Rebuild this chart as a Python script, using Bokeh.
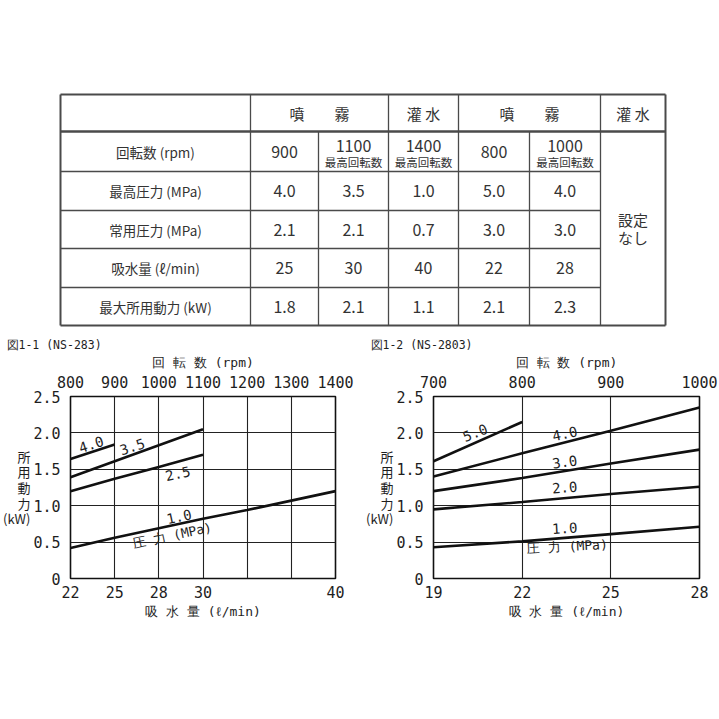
from bokeh.plotting import figure
from bokeh.models import Range1d, LinearAxis, FixedTicker, ColumnDataSource
from bokeh.layouts import column, row
from bokeh.embed import file_html
from bokeh.resources import INLINE
from bokeh.core.properties import value
import math

# ---------------- table data ----------------
header_groups = ["噴　　霧", "灌 水", "噴　　霧", "灌 水"]
row_labels = ["回転数 (rpm)", "最高圧力 (MPa)", "常用圧力 (MPa)", "吸水量 (ℓ/min)", "最大所用動力 (kW)"]
rpm_values = ["900", "1100", "1400", "800", "1000"]
rpm_notes = ["", "最高回転数", "最高回転数", "", "最高回転数"]
max_pressure = ["4.0", "3.5", "1.0", "5.0", "4.0"]
normal_pressure = ["2.1", "2.1", "0.7", "3.0", "3.0"]
suction_flow = ["25", "30", "40", "22", "28"]
max_power = ["1.8", "2.1", "1.1", "2.1", "2.3"]
last_col_text = ["設定", "なし"]

# ---------------- chart data ----------------
kw_ticks = [0, 0.5, 1.0, 1.5, 2.0, 2.5]
kw_tick_labels = ["0", "0.5", "1.0", "1.5", "2.0", "2.5"]

# Fig 1-1 (NS-283)
c1_title = "図1-1 (NS-283)"
c1_rpm_ticks = [800, 900, 1000, 1100, 1200, 1300, 1400]
c1_flow_rpm = [800, 900, 1000, 1100, 1400]
c1_flow_labels = ["22", "25", "28", "30", "40"]
c1_p40_rpm = [800, 900]
c1_p40_kw = [1.64, 1.84]
c1_p35_rpm = [800, 900, 1000, 1100]
c1_p35_kw = [1.39, 1.61, 1.83, 2.05]
c1_p25_rpm = [800, 900, 1000, 1100]
c1_p25_kw = [1.20, 1.37, 1.53, 1.70]
c1_p10_rpm = [800, 900, 1000, 1100, 1200, 1300, 1400]
c1_p10_kw = [0.42, 0.56, 0.69, 0.82, 0.94, 1.07, 1.20]

# Fig 1-2 (NS-2803)
c2_title = "図1-2 (NS-2803)"
c2_rpm_ticks = [700, 800, 900, 1000]
c2_flow_rpm = [700, 800, 900, 1000]
c2_flow_labels = ["19", "22", "25", "28"]
c2_p50_rpm = [700, 800]
c2_p50_kw = [1.61, 2.15]
c2_p40_rpm = [700, 800, 900, 1000]
c2_p40_kw = [1.40, 1.72, 2.03, 2.35]
c2_p30_rpm = [700, 800, 900, 1000]
c2_p30_kw = [1.20, 1.38, 1.58, 1.77]
c2_p20_rpm = [700, 800, 900, 1000]
c2_p20_kw = [0.95, 1.05, 1.16, 1.26]
c2_p10_rpm = [700, 800, 900, 1000]
c2_p10_kw = [0.43, 0.51, 0.61, 0.71]

JP = "Noto Sans CJK JP"
MONO = "DejaVu Sans Mono"
INK = "#1e1e1e"
TINK = "#333333"
LINE = "#4a4a4a"

# ---------------- table figure ----------------
col_edges = [60, 250, 318, 388, 458, 529, 600, 665]
row_edges = [94, 131, 171, 210, 248, 287, 325]

t = figure(width=719, height=335, x_range=Range1d(0, 719), y_range=Range1d(335, 0),
           output_backend="svg", toolbar_location=None,
           x_axis_location=None, y_axis_location=None, min_border=0)
t.xgrid.visible = False
t.ygrid.visible = False
t.outline_line_color = None
t.background_fill_color = "white"
t.border_fill_color = "white"

L, R = col_edges[0], col_edges[-1]
T, B = row_edges[0], row_edges[-1]
segs = dict(x0=[], y0=[], x1=[], y1=[], w=[])


def seg(x0, y0, x1, y1, w):
    segs["x0"].append(x0); segs["y0"].append(y0)
    segs["x1"].append(x1); segs["y1"].append(y1); segs["w"].append(w)


seg(L, T, R, T, 2); seg(L, B, R, B, 2); seg(L, T, L, B, 2); seg(R, T, R, B, 2)
seg(L, row_edges[1], R, row_edges[1], 2.6)
for y in row_edges[2:-1]:
    seg(L, y, col_edges[6], y, 1.3)
for x in (col_edges[1], col_edges[3], col_edges[4], col_edges[6]):
    seg(x, T, x, B, 1.3)
for x in (col_edges[2], col_edges[5]):
    seg(x, row_edges[1], x, B, 1.3)
t.segment(x0="x0", y0="y0", x1="x1", y1="y1", line_width="w", line_color=LINE,
          source=ColumnDataSource(segs))

hdr_y = (row_edges[0] + row_edges[1]) / 2
hdr_x = [(col_edges[1] + col_edges[3]) / 2, (col_edges[3] + col_edges[4]) / 2,
         (col_edges[4] + col_edges[6]) / 2, (col_edges[6] + col_edges[7]) / 2]
t.text(x=hdr_x, y=[hdr_y] * 4, text=header_groups, text_font=value(JP), text_font_size="15px",
       text_align="center", text_baseline="middle", text_color=TINK)

row_c = [(row_edges[i] + row_edges[i + 1]) / 2 for i in range(1, 6)]
lab_x = (col_edges[0] + col_edges[1]) / 2
t.text(x=[lab_x] * 5, y=row_c, text=row_labels, text_font=value(JP), text_font_size="13.5px",
       text_align="center", text_baseline="middle", text_color=TINK)

val_x = [(col_edges[i] + col_edges[i + 1]) / 2 for i in range(1, 6)]
vx, vy, vt = [], [], []
for i, v in enumerate(rpm_values):
    vx.append(val_x[i]); vt.append(v)
    vy.append(row_c[0] - 6 if rpm_notes[i] else row_c[0])
for r, vals in enumerate([max_pressure, normal_pressure, suction_flow, max_power], start=1):
    for i, v in enumerate(vals):
        vx.append(val_x[i]); vy.append(row_c[r]); vt.append(v)
t.text(x=vx, y=vy, text=vt, text_font=value(JP), text_font_size="16px",
       text_align="center", text_baseline="middle", text_color=TINK)

nx = [val_x[i] for i in range(5) if rpm_notes[i]]
nt = [n for n in rpm_notes if n]
t.text(x=nx, y=[row_c[0] + 10] * len(nx), text=nt, text_font=value(JP), text_font_size="11.5px",
       text_align="center", text_baseline="middle", text_color=TINK)

last_x = (col_edges[6] + col_edges[7]) / 2
mid = (row_edges[1] + row_edges[-1]) / 2
t.text(x=[last_x, last_x], y=[mid - 9, mid + 9], text=last_col_text, text_font=value(JP),
       text_font_size="15px", text_align="center", text_baseline="middle", text_color=TINK)


# ---------------- charts ----------------
def make_chart(width, left, right, x0, x1, top_ticks, grid_ticks, bottom_ticks, bottom_labels,
               title, title_offset):
    p = figure(width=width, height=384, x_range=Range1d(x0, x1), y_range=Range1d(0, 2.5),
               output_backend="svg", toolbar_location=None, title=title,
               min_border_left=left, min_border_right=right, min_border_top=61, min_border_bottom=141)
    p.background_fill_color = "white"
    p.border_fill_color = "white"
    p.outline_line_color = "#111111"
    p.outline_line_width = 1.6
    p.title.align = "left"
    p.title.offset = title_offset
    p.title.standoff = 0
    p.title.text_font = MONO
    p.title.text_font_size = "11.5px"
    p.title.text_font_style = "normal"
    p.title.text_color = INK
    p.xgrid.ticker = FixedTicker(ticks=grid_ticks)
    p.ygrid.ticker = FixedTicker(ticks=[0.5, 1.0, 1.5, 2.0])
    p.xgrid.grid_line_color = "#222222"
    p.ygrid.grid_line_color = "#222222"
    p.xgrid.grid_line_width = 1.1
    p.ygrid.grid_line_width = 1.1

    xb = p.xaxis[0]
    xb.ticker = FixedTicker(ticks=bottom_ticks)
    xb.major_label_overrides = dict(zip(bottom_ticks, bottom_labels))
    xb.axis_label = "吸 水 量 (ℓ/min)"
    ya = p.yaxis[0]
    ya.ticker = FixedTicker(ticks=kw_ticks)
    ya.major_label_overrides = dict(zip(kw_ticks, kw_tick_labels))
    xt = LinearAxis(ticker=FixedTicker(ticks=top_ticks), axis_label="回 転 数 (rpm)")
    p.add_layout(xt, "above")
    for ax in (xb, ya, xt):
        ax.axis_line_color = None
        ax.major_tick_line_color = None
        ax.minor_tick_line_color = None
        ax.major_tick_out = 0
        ax.major_tick_in = 0
        ax.major_label_text_font = MONO
        ax.major_label_text_font_size = "15px"
        ax.major_label_text_color = INK
        ax.axis_label_text_font = MONO
        ax.axis_label_text_font_size = "13px"
        ax.axis_label_text_font_style = "normal"
        ax.axis_label_text_color = INK
    xb.major_label_standoff = 7
    xb.axis_label_standoff = 3
    xt.major_label_standoff = 9
    xt.axis_label_standoff = 3
    ya.major_label_standoff = 10
    if "axis_label_orientation" in ya.properties():
        ya.axis_label = "所\n用\n動\n力\n(kW)"
        ya.axis_label_orientation = "horizontal"
    else:
        ya.axis_label = "所用動力 (kW)"
    ya.axis_label_text_font = JP
    ya.axis_label_text_font_size = "13px"
    if "axis_label_text_line_height" in ya.properties():
        ya.axis_label_text_line_height = 0.82
    ya.axis_label_standoff = 0
    return p


def add_line_labels(p, xs, ys, texts, angles_deg, size):
    p.text(x=xs, y=ys, text=texts, angle=[math.radians(a) for a in angles_deg],
           text_font=value(MONO), text_font_size=size, text_align="center",
           text_baseline="middle", text_color=INK)


c1 = make_chart(360, 69, 25, 800, 1400, c1_rpm_ticks, c1_rpm_ticks, c1_flow_rpm, c1_flow_labels,
                c1_title, -64)
for xs, ys in [(c1_p40_rpm, c1_p40_kw), (c1_p35_rpm, c1_p35_kw),
               (c1_p25_rpm, c1_p25_kw), (c1_p10_rpm, c1_p10_kw)]:
    c1.line(xs, ys, line_color="#111111", line_width=2.6)
add_line_labels(c1, [847, 940, 1043, 1046], [1.84, 1.81, 1.44, 0.85],
                ["4.0", "3.5", "2.5", "1.0"], [18, 18, 12, 12], "14px")
add_line_labels(c1, [1030], [0.59], ["圧 力 (MPa)"], [12], "13px")

c2 = make_chart(359, 73, 20, 700, 1000, c2_rpm_ticks, c2_rpm_ticks, c2_flow_rpm, c2_flow_labels,
                c2_title, -63)
for xs, ys in [(c2_p50_rpm, c2_p50_kw), (c2_p40_rpm, c2_p40_kw), (c2_p30_rpm, c2_p30_kw),
               (c2_p20_rpm, c2_p20_kw), (c2_p10_rpm, c2_p10_kw)]:
    c2.line(xs, ys, line_color="#111111", line_width=2.6)
add_line_labels(c2, [747, 848, 848, 848, 848], [2.00, 1.99, 1.60, 1.25, 0.69],
                ["5.0", "4.0", "3.0", "2.0", "1.0"], [22, 12, 8, 4, 3], "14px")
add_line_labels(c2, [851], [0.44], ["圧 力 (MPa)"], [3], "13px")

layout = column(t, row(c1, c2, spacing=0), spacing=0)
open("out.html", "w").write(file_html(layout, INLINE))
